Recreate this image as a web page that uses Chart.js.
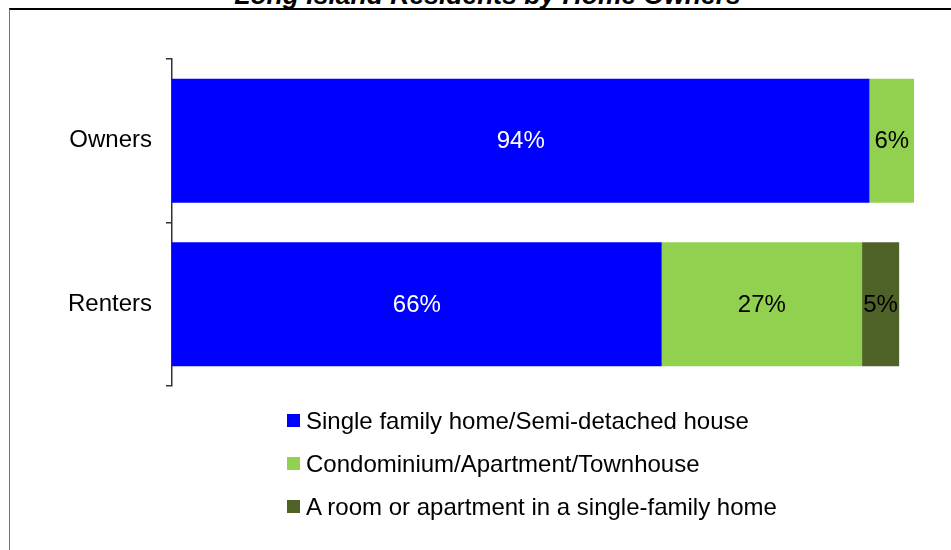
<!DOCTYPE html>
<html>
<head>
<meta charset="utf-8">
<script src="https://cdn.jsdelivr.net/npm/chart.js@4.4.1/dist/chart.umd.min.js"></script>
<style>
  html, body { margin: 0; padding: 0; background: #fff; overflow: hidden; }
  #frame { position: absolute; left: 9px; top: 8px; width: 1000px; height: 600px;
           border-top: 2px solid #000; border-left: 1px solid #777; }
  #title { position: absolute; left: 0; width: 975px; top: -18px; text-align: center;
           font: italic bold 26.5px "Liberation Sans", Arial, sans-serif; line-height: 1; color: #000; }
  #chart { position: absolute; left: 0; top: 0; }
  #legend { position: absolute; left: 287px; top: 399px; font: 24px "Liberation Sans", Arial, sans-serif; color: #000; }
  #legend div { height: 43px; display: flex; align-items: center; }
  #legend span.box { display: inline-block; width: 13px; height: 13px; margin-right: 6px; }
</style>
</head>
<body>
<div id="frame"></div>
<div id="title">Long Island Residents by Home Owners</div>
<canvas id="chart" width="951" height="550"></canvas>
<div id="legend"></div>
<script>
// DATA
let categories = ["Owners", "Renters"];
let seriesNames = [
    "Single family home/Semi-detached house",
    "Condominium/Apartment/Townhouse",
    "A room or apartment in a single-family home"
];
let singleFamily = [94, 66];
let condo = [6, 27];
let roomInHome = [null, 5];

let colors = ["#0000ff", "#92d050", "#4f6228"];
let labelColors = ["#ffffff", "#000000", "#000000"];

// LABELS INSIDE BARS
let barLabels = {
    id: "barLabels",
    afterDatasetsDraw(chart) {
        let ctx = chart.ctx;
        ctx.save();
        ctx.font = '24px "Liberation Sans", Arial, sans-serif';
        ctx.textAlign = "center";
        ctx.textBaseline = "middle";
        chart.data.datasets.forEach((ds, i) => {
            let meta = chart.getDatasetMeta(i);
            meta.data.forEach((bar, j) => {
                let v = ds.data[j];
                if (v == null) return;
                ctx.fillStyle = labelColors[i];
                ctx.fillText(v + "%", (bar.x + bar.base) / 2, bar.y + 1);
            });
        });
        ctx.restore();
    }
};

let chart = new Chart(document.getElementById("chart"), {
    type: "bar",
    data: {
        labels: categories,
        datasets: [
            { label: seriesNames[0], data: singleFamily, backgroundColor: colors[0] },
            { label: seriesNames[1], data: condo, backgroundColor: colors[1] },
            { label: seriesNames[2], data: roomInHome, backgroundColor: colors[2] }
        ]
    },
    options: {
        indexAxis: "y",
        responsive: false,
        animation: false,
        datasets: { bar: { categoryPercentage: 1, barPercentage: 0.758, borderWidth: 0 } },
        layout: { padding: { top: 59, bottom: 164, right: 37, left: 0 } },
        plugins: { legend: { display: false }, tooltip: { enabled: false } },
        scales: {
            x: { stacked: true, display: false, min: 0, max: 100 },
            y: {
                stacked: true,
                afterFit(scale) { scale.width = 172; },
                border: { display: true, color: "#333", width: 1.5 },
                grid: { drawOnChartArea: false, drawTicks: true, tickLength: 6, color: "#333", lineWidth: 1.5, offset: true },
                ticks: { color: "#000", padding: 14, font: { family: '"Liberation Sans", Arial, sans-serif', size: 24 } }
            }
        }
    },
    plugins: [barLabels]
});

// LEGEND
let legend = document.getElementById("legend");
chart.data.datasets.forEach(ds => {
    let row = document.createElement("div");
    row.innerHTML = '<span class="box" style="background:' + ds.backgroundColor + '"></span>' + ds.label;
    legend.appendChild(row);
});
</script>
</body>
</html>
